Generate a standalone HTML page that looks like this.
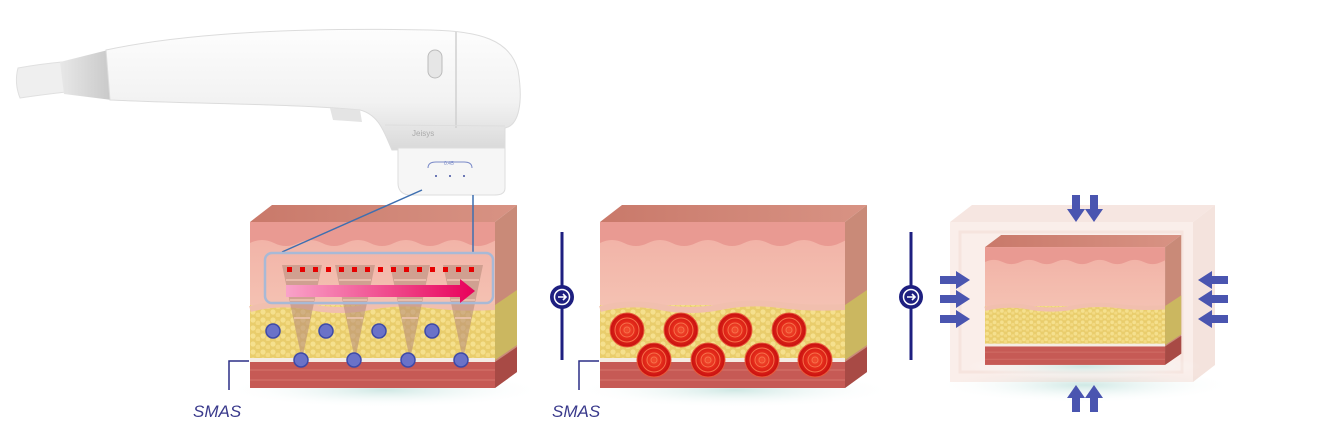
<!DOCTYPE html>
<html><head><meta charset="utf-8"><style>
html,body{margin:0;padding:0;background:#fff;width:1326px;height:440px;overflow:hidden}
svg{display:block}
text{font-family:"Liberation Sans",sans-serif}
</style></head><body>
<svg width="1326" height="440" viewBox="0 0 1326 440" xmlns="http://www.w3.org/2000/svg">
<defs>
<linearGradient id="body" x1="0" y1="0" x2="0" y2="1">
<stop offset="0" stop-color="#fdfdfd"/><stop offset="0.6" stop-color="#f2f2f2"/><stop offset="1" stop-color="#d9d9d9"/></linearGradient>
<linearGradient id="cone" x1="0" y1="0" x2="1" y2="0">
<stop offset="0" stop-color="#e8e8e8"/><stop offset="1" stop-color="#c8c8c8"/></linearGradient>
<linearGradient id="derm" x1="0" y1="0" x2="0" y2="1">
<stop offset="0" stop-color="#f2b4a8"/><stop offset="1" stop-color="#f4c1b2"/></linearGradient>
<linearGradient id="top" x1="0" y1="0" x2="1" y2="0">
<stop offset="0" stop-color="#c9796a"/><stop offset="1" stop-color="#d89384"/></linearGradient>
<linearGradient id="arrow" x1="0" y1="0" x2="1" y2="0">
<stop offset="0" stop-color="#f9a3c9"/><stop offset="1" stop-color="#e8005a"/></linearGradient>
<pattern id="fatp" width="10" height="8" patternUnits="userSpaceOnUse">
<rect width="10" height="8" fill="#e9cd6c"/><circle cx="3" cy="3" r="2.6" fill="#f5e08e"/><circle cx="8" cy="6" r="2.4" fill="#f3da83"/></pattern>
<radialGradient id="shadow" cx="0.5" cy="0.5" r="0.5">
<stop offset="0" stop-color="#cfe8e4"/><stop offset="1" stop-color="#ffffff" stop-opacity="0"/></radialGradient>
<radialGradient id="heat" cx="0.5" cy="0.5" r="0.5">
<stop offset="0" stop-color="#f35030"/><stop offset="0.5" stop-color="#e42a1a"/><stop offset="1" stop-color="#c81010"/></radialGradient>
<g id="block">
<ellipse cx="135" cy="185" rx="160" ry="18" fill="url(#shadow)"/>
<polygon points="0,17 22,0 267,0 245,17" fill="url(#top)"/>
<rect x="0" y="17" width="245" height="25" fill="#e99a92"/>
<path d="M0,38 q12,-6 24,0 t24,0 t24,0 t24,0 t24,0 t24,0 t24,0 t24,0 t24,0 t24,0 t5,0 V100 H0Z" fill="url(#derm)"/>
<rect x="0" y="100" width="245" height="55" fill="url(#fatp)"/>
<path d="M0,104 q30,-8 60,-2 t60,0 t60,-2 t65,2" fill="none" stroke="#f1bfae" stroke-width="6"/>
<rect x="0" y="153" width="245" height="4" fill="#f4ece4"/>
<rect x="0" y="157" width="245" height="26" fill="#c65a55"/>
<path d="M0,165 h245 M0,175 h245" stroke="#d77a70" stroke-width="1.5" opacity="0.6"/>
<polygon points="245,17 267,0 267,167 245,183" fill="#c98a78"/>
<polygon points="245,100 267,85 267,140 245,155" fill="#cbb760"/>
<polygon points="245,157 267,142 267,167 245,183" fill="#a84a45"/>
</g>
<g id="hc">
<circle r="17" fill="url(#heat)" stroke="#e85a3a"/>
<circle r="12" fill="none" stroke="#f7704a" stroke-width="1"/>
<circle r="7" fill="none" stroke="#f7704a" stroke-width="1"/>
<circle r="3" fill="none" stroke="#f7704a" stroke-width="1"/>
</g>
<g id="sep">
<line x1="0" y1="-65" x2="0" y2="63" stroke="#1e1f80" stroke-width="3"/>
<circle r="12" fill="#1e1f80"/>
<circle r="7.5" fill="none" stroke="#fff" stroke-width="1.5"/>
<path d="M-4,0 H4 M1,-3 L4,0 L1,3" fill="none" stroke="#fff" stroke-width="1.6"/>
</g>
</defs>

<!-- handpiece -->
<path d="M18,68 Q40,64 62,62 L66,92 Q40,95 20,98 Q14,83 18,68 Z" fill="#efefef" stroke="#e0e0e0"/>
<path d="M60,62 L108,50 L112,100 L64,94 Z" fill="url(#cone)"/>
<path d="M106,50 C200,30 330,28 430,30 C480,31 510,40 518,70 C523,100 520,125 505,128 L505,148 L392,150 C385,135 380,115 360,110 C300,104 200,104 110,100 Z" fill="url(#body)" stroke="#dcdcdc"/>
<path d="M456,32 L456,128" stroke="#d0d0d0" stroke-width="1.5"/>
<path d="M385,125 L505,126" stroke="#ddd"/>
<path d="M330,108 L360,110 L362,122 L333,120Z" fill="#e4e4e4"/>
<rect x="428" y="50" width="14" height="28" rx="7" fill="#e6e6e6" stroke="#bbb"/>
<text x="412" y="136" font-size="8" fill="#aaa">Jeisys</text>
<path d="M398,148 L505,148 L505,188 Q505,195 495,195 L408,195 Q398,193 398,183 Z" fill="#f6f6f6" stroke="#ddd"/>
<path d="M428,168 q0,-6 8,-6 h28 q8,0 8,6" fill="none" stroke="#7a8ac8"/>
<text x="444" y="165" font-size="5" fill="#7a8ac8">0.45</text>
<circle cx="436" cy="176" r="1" fill="#4050a0"/><circle cx="450" cy="176" r="1" fill="#4050a0"/><circle cx="464" cy="176" r="1" fill="#4050a0"/>

<!-- block 1 -->
<use href="#block" x="250" y="205"/>
<g fill="#b58a7a" opacity="0.55">
<polygon points="282,265 322,265 302,360"/><polygon points="335,265 375,265 355,360"/>
<polygon points="390,265 430,265 410,360"/><polygon points="443,265 483,265 463,360"/>
</g>
<g stroke="#f3c9b8" stroke-width="2" opacity="0.7">
<path d="M286,280h32M339,280h32M394,280h32M447,280h32M290,300h24M343,300h24M398,300h24M451,300h24M294,318h16M347,318h16M402,318h16M455,318h16"/></g>
<line x1="282" y1="252" x2="422" y2="190" stroke="#3e6fb0" stroke-width="1.5"/>
<line x1="473" y1="195" x2="473" y2="252" stroke="#3e6fb0" stroke-width="1.5"/>
<rect x="265" y="253" width="228" height="50" rx="7" fill="none" stroke="#a8b9d6" stroke-width="2.5"/>
<g fill="#e60000">
<rect x="287" y="267" width="5" height="5"/><rect x="300" y="267" width="5" height="5"/><rect x="313" y="267" width="5" height="5"/><rect x="326" y="267" width="5" height="5"/><rect x="339" y="267" width="5" height="5"/><rect x="352" y="267" width="5" height="5"/><rect x="365" y="267" width="5" height="5"/><rect x="378" y="267" width="5" height="5"/><rect x="391" y="267" width="5" height="5"/><rect x="404" y="267" width="5" height="5"/><rect x="417" y="267" width="5" height="5"/><rect x="430" y="267" width="5" height="5"/><rect x="443" y="267" width="5" height="5"/><rect x="456" y="267" width="5" height="5"/><rect x="469" y="267" width="5" height="5"/></g>
<path d="M286,285 H460 V279 L475,291 L460,303 V297 H286 Z" fill="url(#arrow)"/>
<g fill="#6a72c8" stroke="#3d4aa8" stroke-width="1.5">
<circle cx="273" cy="331" r="7"/><circle cx="326" cy="331" r="7"/><circle cx="379" cy="331" r="7"/><circle cx="432" cy="331" r="7"/>
<circle cx="301" cy="360" r="7"/><circle cx="354" cy="360" r="7"/><circle cx="408" cy="360" r="7"/><circle cx="461" cy="360" r="7"/></g>
<path d="M249,361 H229 V390" fill="none" stroke="#2b2f86" stroke-width="1.5"/>
<text x="193" y="417" font-size="17" font-style="italic" fill="#3a3a8c">SMAS</text>

<use href="#sep" x="562" y="297"/>

<!-- block 2 -->
<use href="#block" x="600" y="205"/>
<use href="#hc" x="627" y="330"/><use href="#hc" x="681" y="330"/><use href="#hc" x="735" y="330"/><use href="#hc" x="789" y="330"/>
<use href="#hc" x="654" y="360"/><use href="#hc" x="708" y="360"/><use href="#hc" x="762" y="360"/><use href="#hc" x="815" y="360"/>
<path d="M599,361 H579 V390" fill="none" stroke="#2b2f86" stroke-width="1.5"/>
<text x="552" y="417" font-size="17" font-style="italic" fill="#3a3a8c">SMAS</text>

<use href="#sep" x="911" y="297"/>

<!-- block 3 -->
<ellipse cx="1085" cy="385" rx="150" ry="18" fill="url(#shadow)"/>
<g opacity="0.35">
<polygon points="950,222 972,205 1215,205 1193,222" fill="#e8b8aa"/>
<rect x="950" y="222" width="243" height="160" fill="#f2cfc4"/>
<polygon points="1193,222 1215,205 1215,365 1193,382" fill="#e0b0a0"/>
<rect x="960" y="232" width="222" height="140" fill="none" stroke="#e6b3a3" stroke-width="3"/>
</g>
<g transform="translate(985,235) scale(0.735,0.71)"><use href="#block" x="0" y="0"/></g>
<g fill="#4a55b0">
<path d="M1072,195 v14 h-5 l9,13 l9,-13 h-5 v-14z"/><path d="M1090,195 v14 h-5 l9,13 l9,-13 h-5 v-14z"/>
<path d="M1072,412 v-14 h-5 l9,-13 l9,13 h-5 v14z"/><path d="M1090,412 v-14 h-5 l9,-13 l9,13 h-5 v14z"/>
<path d="M940,276 h16 v-5 l14,9 l-14,9 v-5 h-16z"/><path d="M940,295 h16 v-5 l14,9 l-14,9 v-5 h-16z"/><path d="M940,315 h16 v-5 l14,9 l-14,9 v-5 h-16z"/>
<path d="M1228,276 h-16 v-5 l-14,9 l14,9 v-5 h16z"/><path d="M1228,295 h-16 v-5 l-14,9 l14,9 v-5 h16z"/><path d="M1228,315 h-16 v-5 l-14,9 l14,9 v-5 h16z"/>
</g>
</svg>
</body></html>
